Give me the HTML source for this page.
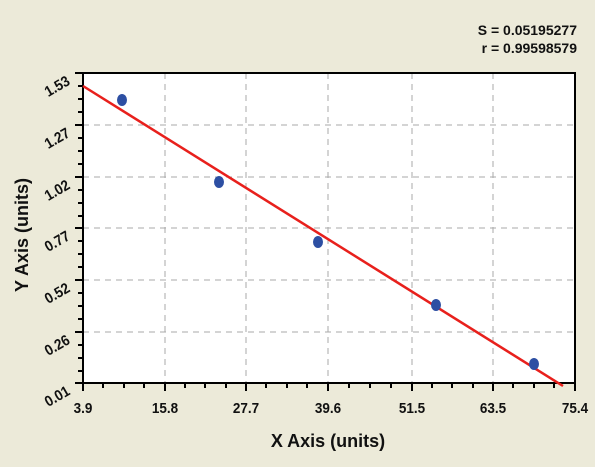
<!DOCTYPE html>
<html><head><style>
body{margin:0;background:#fff;}
svg{display:block;font-family:"Liberation Sans",Arial,sans-serif;font-weight:bold;}
</style></head><body>
<svg width="600" height="470" viewBox="0 0 600 470">
<rect x="0" y="0" width="595" height="467" fill="#ecead9"/>
<rect x="83" y="73" width="492" height="310" fill="#fff"/>
<g stroke="#aaa" stroke-width="1" stroke-dasharray="6,5">
<line x1="165" y1="73" x2="165" y2="383"/><line x1="246" y1="73" x2="246" y2="383"/>
<line x1="328" y1="73" x2="328" y2="383"/><line x1="412" y1="73" x2="412" y2="383"/>
<line x1="493" y1="73" x2="493" y2="383"/>
<line x1="83" y1="125" x2="575" y2="125"/><line x1="83" y1="177" x2="575" y2="177"/>
<line x1="83" y1="228" x2="575" y2="228"/><line x1="83" y1="280" x2="575" y2="280"/>
<line x1="83" y1="332" x2="575" y2="332"/>
</g>
<rect x="83" y="73" width="492" height="310" fill="none" stroke="#000" stroke-width="2"/>
<g stroke="#000" stroke-width="2">
<line x1="83" y1="383" x2="83" y2="391"/><line x1="165" y1="383" x2="165" y2="391"/><line x1="246" y1="383" x2="246" y2="391"/><line x1="328" y1="383" x2="328" y2="391"/><line x1="412" y1="383" x2="412" y2="391"/><line x1="493" y1="383" x2="493" y2="391"/><line x1="575" y1="383" x2="575" y2="391"/>
<line x1="103" y1="383" x2="103" y2="388"/><line x1="124" y1="383" x2="124" y2="388"/><line x1="144" y1="383" x2="144" y2="388"/>
<line x1="185" y1="383" x2="185" y2="388"/><line x1="205" y1="383" x2="205" y2="388"/><line x1="226" y1="383" x2="226" y2="388"/>
<line x1="266" y1="383" x2="266" y2="388"/><line x1="287" y1="383" x2="287" y2="388"/><line x1="307" y1="383" x2="307" y2="388"/>
<line x1="349" y1="383" x2="349" y2="388"/><line x1="370" y1="383" x2="370" y2="388"/><line x1="391" y1="383" x2="391" y2="388"/>
<line x1="432" y1="383" x2="432" y2="388"/><line x1="452" y1="383" x2="452" y2="388"/><line x1="473" y1="383" x2="473" y2="388"/>
<line x1="513" y1="383" x2="513" y2="388"/><line x1="534" y1="383" x2="534" y2="388"/><line x1="554" y1="383" x2="554" y2="388"/>
<line x1="75" y1="73" x2="83" y2="73"/><line x1="75" y1="125" x2="83" y2="125"/><line x1="75" y1="177" x2="83" y2="177"/><line x1="75" y1="228" x2="83" y2="228"/><line x1="75" y1="280" x2="83" y2="280"/><line x1="75" y1="332" x2="83" y2="332"/><line x1="75" y1="383" x2="83" y2="383"/>
<line x1="78" y1="86" x2="83" y2="86"/><line x1="78" y1="99" x2="83" y2="99"/><line x1="78" y1="112" x2="83" y2="112"/>
<line x1="78" y1="138" x2="83" y2="138"/><line x1="78" y1="151" x2="83" y2="151"/><line x1="78" y1="164" x2="83" y2="164"/>
<line x1="78" y1="190" x2="83" y2="190"/><line x1="78" y1="203" x2="83" y2="203"/><line x1="78" y1="216" x2="83" y2="216"/>
<line x1="78" y1="241" x2="83" y2="241"/><line x1="78" y1="254" x2="83" y2="254"/><line x1="78" y1="267" x2="83" y2="267"/>
<line x1="78" y1="293" x2="83" y2="293"/><line x1="78" y1="306" x2="83" y2="306"/><line x1="78" y1="319" x2="83" y2="319"/>
<line x1="78" y1="345" x2="83" y2="345"/><line x1="78" y1="358" x2="83" y2="358"/><line x1="78" y1="371" x2="83" y2="371"/>
</g>
<line x1="83" y1="86" x2="563" y2="386" stroke="#e8201c" stroke-width="2.5"/>
<g fill="#2d4fa3">
<ellipse cx="122" cy="100" rx="5" ry="6"/><ellipse cx="219" cy="182" rx="5" ry="6"/>
<ellipse cx="318" cy="242" rx="5" ry="6"/><ellipse cx="436" cy="305" rx="5" ry="6"/>
<ellipse cx="534" cy="364" rx="5" ry="6"/>
</g>
<g font-size="15" text-anchor="middle" fill="#111">
<text transform="translate(83,413) scale(0.9,1)">3.9</text><text transform="translate(165,413) scale(0.9,1)">15.8</text><text transform="translate(246,413) scale(0.9,1)">27.7</text><text transform="translate(328,413) scale(0.9,1)">39.6</text><text transform="translate(412,413) scale(0.9,1)">51.5</text><text transform="translate(493,413) scale(0.9,1)">63.5</text><text transform="translate(575,413) scale(0.9,1)">75.4</text>
</g>
<g font-size="15" text-anchor="end" fill="#111">
<text transform="translate(71,84) rotate(-30) scale(0.9,1)">1.53</text>
<text transform="translate(71,136) rotate(-30) scale(0.9,1)">1.27</text>
<text transform="translate(71,188) rotate(-30) scale(0.9,1)">1.02</text>
<text transform="translate(71,239) rotate(-30) scale(0.9,1)">0.77</text>
<text transform="translate(71,291) rotate(-30) scale(0.9,1)">0.52</text>
<text transform="translate(71,343) rotate(-30) scale(0.9,1)">0.26</text>
<text transform="translate(71,394) rotate(-30) scale(0.9,1)">0.01</text>
</g>
<text x="328" y="447" font-size="18" text-anchor="middle" fill="#111">X Axis (units)</text>
<text transform="translate(28,235) rotate(-90)" font-size="18" text-anchor="middle" fill="#111">Y Axis (units)</text>
<g font-size="14" text-anchor="end" fill="#111">
<text x="577" y="35">S = 0.05195277</text>
<text x="577" y="53">r = 0.99598579</text>
</g>
</svg>
</body></html>
